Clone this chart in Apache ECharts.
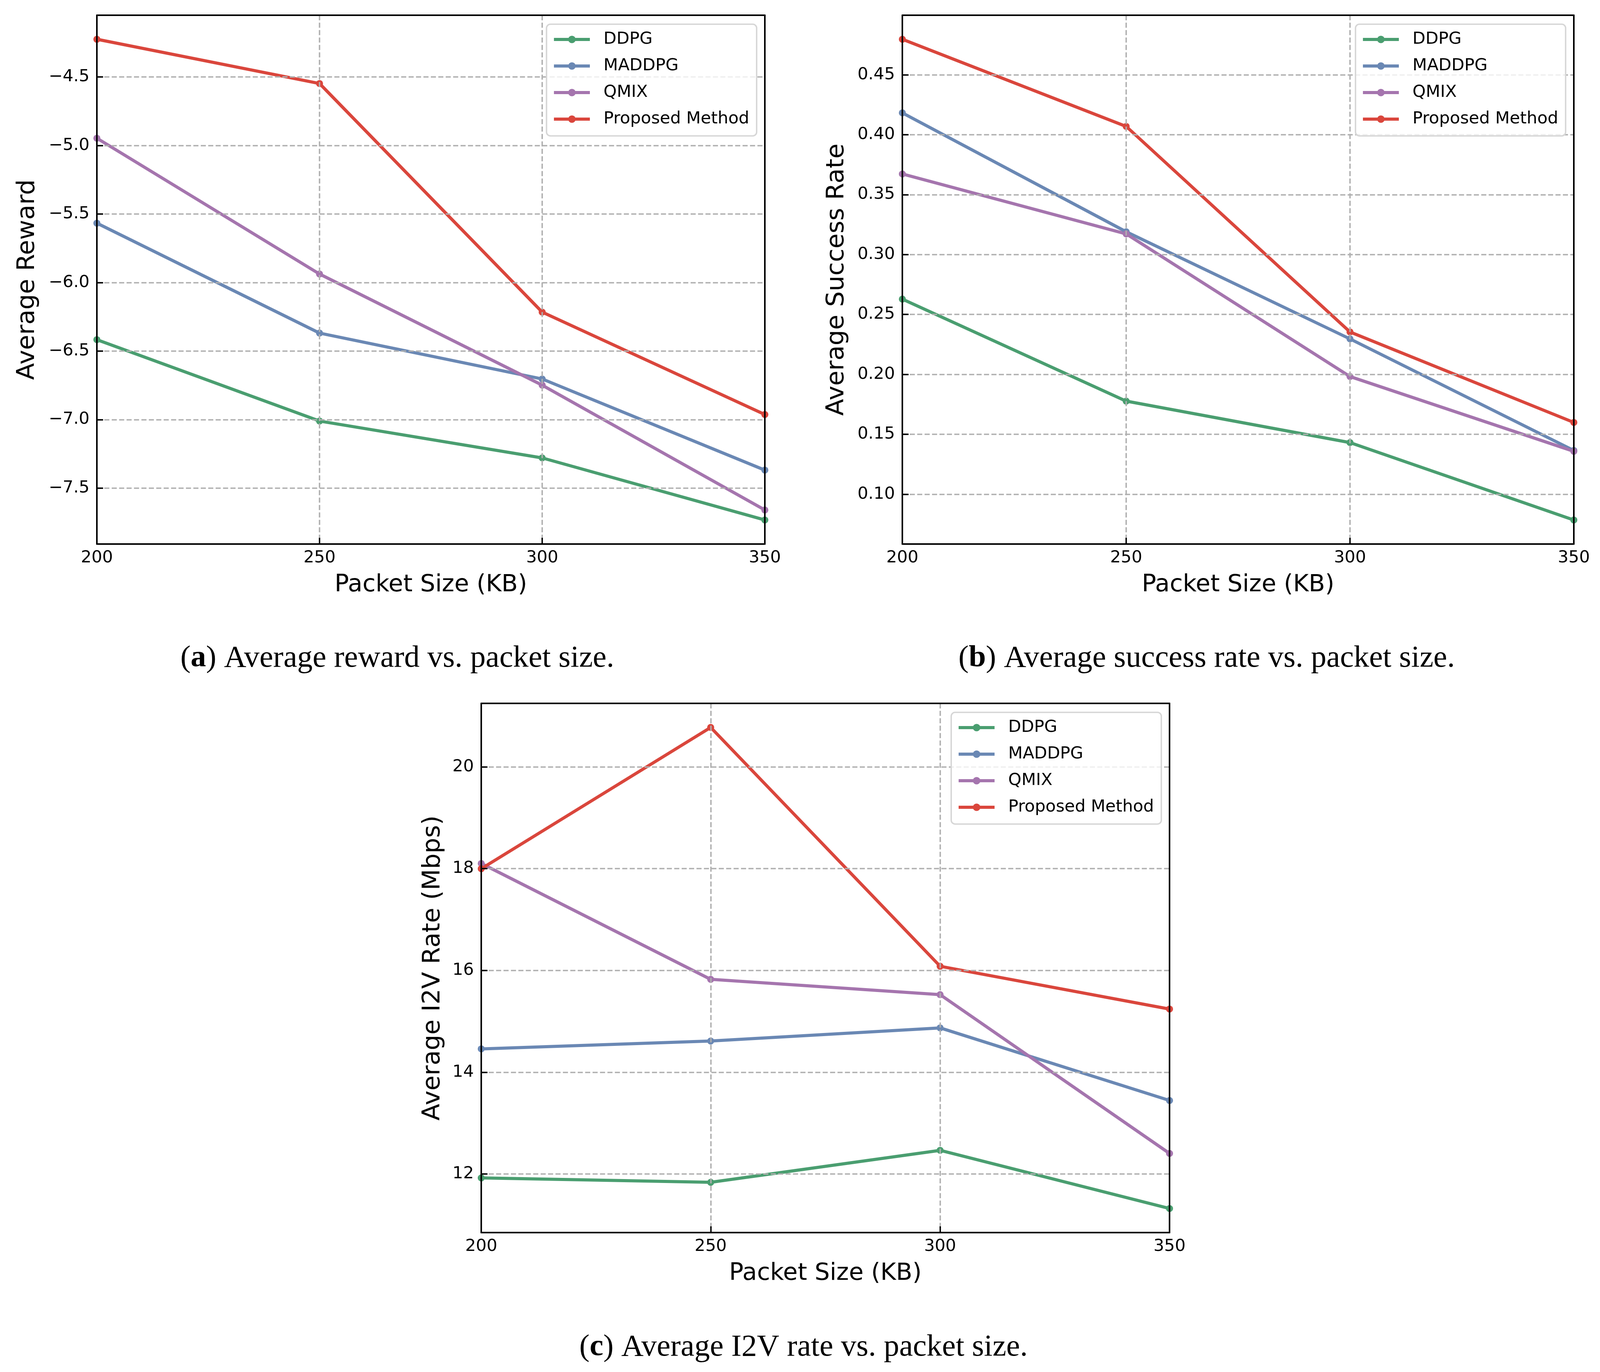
<!DOCTYPE html>
<html>
<head>
<meta charset="utf-8">
<script src="https://cdn.jsdelivr.net/npm/echarts@6/dist/echarts.min.js"></script>
<style>
html,body{margin:0;padding:0;background:#fff;overflow:hidden;}
#chart{width:4250px;height:3513px;}
</style>
</head>
<body>
<div id="chart"></div>
<script>
// ---------- data ----------
const packetSizes = [200, 250, 300, 350];
const xTicks = [200, 250, 300, 350];
const xInnerTicks = [250, 300];
const seriesNames = ['DDPG', 'MADDPG', 'QMIX', 'Proposed Method'];

const ddpgReward     = [-6.417, -7.011, -7.280, -7.733];
const maddpgReward   = [-5.567, -6.369, -6.704, -7.369];
const qmixReward     = [-4.947, -5.938, -6.749, -7.660];
const proposedReward = [-4.225, -4.548, -6.216, -6.963];

const ddpgSuccess     = [0.2628, 0.1777, 0.1431, 0.0785];
const maddpgSuccess   = [0.4182, 0.3190, 0.2296, 0.1365];
const qmixSuccess     = [0.3672, 0.3172, 0.1982, 0.1358];
const proposedSuccess = [0.4796, 0.4069, 0.2354, 0.1599];

const ddpgRate     = [11.924, 11.838, 12.466, 11.323];
const maddpgRate   = [14.459, 14.613, 14.871, 13.445];
const qmixRate     = [18.101, 15.825, 15.524, 12.405];
const proposedRate = [17.998, 20.773, 16.082, 15.241];

const rewardTicks  = [-7.5, -7.0, -6.5, -6.0, -5.5, -5.0, -4.5];
const successTicks = [0.10, 0.15, 0.20, 0.25, 0.30, 0.35, 0.40, 0.45];
const rateTicks    = [12, 14, 16, 18, 20];

const captions = [
  ['a', 'Average reward vs. packet size.'],
  ['b', 'Average success rate vs. packet size.'],
  ['c', 'Average I2V rate vs. packet size.']
];
const yTitles = ['Average Reward', 'Average Success Rate', 'Average I2V Rate (Mbps)'];
const xTitle = 'Packet Size (KB)';

// ---------- layout (designed for a 4250 px wide page, scaled to the real viewport) ----------
const DESIGN_W = 4250, DESIGN_H = 3513;
const pageW = Math.min(DESIGN_W, window.innerWidth || DESIGN_W);
const sx = pageW / DESIGN_W;
const el = document.getElementById('chart');
el.style.width = pageW + 'px';
el.style.height = DESIGN_H + 'px';

const colors = ['#4a9e70', '#6a88b4', '#a575ae', '#da463c'];
const SANS = 'DejaVu Sans';
const SERIF = 'Liberation Serif';
const TICK_FS = Math.round(45 * sx), TITLE_FS = Math.round(63 * sx),
      YTITLE_FS = 63, LEGEND_FS = Math.round(45 * sx), CAP_FS = Math.round(82 * sx);
const FRAME = {show: true, lineStyle: {color: '#000', width: 4}};

const gridsDesign = [
  {left: 257,  top: 39,   width: 1774, height: 1354},
  {left: 2397, top: 39,   width: 1784, height: 1354},
  {left: 1278, top: 1801, width: 1828, height: 1355}
];
const grids = gridsDesign.map(g => ({
  left: Math.round(g.left * sx), top: g.top,
  width: Math.round(g.width * sx), height: g.height
}));
const yNameGaps = [151, 141, 95].map(v => Math.round(v * sx));
const captionPos = [[1055, 1686], [3205, 1686], [2134, 3450]];

const panels = [
  {data: [ddpgReward, maddpgReward, qmixReward, proposedReward], ticks: rewardTicks,
   fmt: v => (v < 0 ? '\u2212' : '') + Math.abs(v).toFixed(1)},
  {data: [ddpgSuccess, maddpgSuccess, qmixSuccess, proposedSuccess], ticks: successTicks,
   fmt: v => v.toFixed(2)},
  {data: [ddpgRate, maddpgRate, qmixRate, proposedRate], ticks: rateTicks,
   fmt: v => String(Math.round(v))}
];

function autoRange(arrs) {
  const all = [].concat(...arrs);
  const mn = Math.min(...all), mx = Math.max(...all);
  const m = (mx - mn) * 0.05;
  return [mn - m, mx + m];
}

const gridLine = {show: true, lineStyle: {color: '#b0b0b0', width: 3.6, type: [13, 6]}};

const xAxes = [], yAxes = [];
grids.forEach((g, i) => {
  xAxes.push({
    type: 'value', gridIndex: i, min: 200, max: 350, position: 'bottom',
    name: xTitle, nameLocation: 'middle', nameGap: 75,
    nameTextStyle: {fontFamily: SANS, fontSize: TITLE_FS, color: '#000'},
    axisLine: FRAME,
    axisTick: {show: true, inside: true, length: 16, customValues: xInnerTicks,
               lineStyle: {color: '#000', width: 3.6}},
    axisLabel: {fontFamily: SANS, fontSize: TICK_FS, color: '#000', margin: 14,
                customValues: xTicks, formatter: v => String(v)},
    splitLine: gridLine, z: 3
  });
  xAxes.push({
    type: 'value', gridIndex: i, min: 200, max: 350, position: 'top',
    axisLine: FRAME, axisTick: {show: false}, axisLabel: {show: false},
    splitLine: {show: false}, z: 3
  });
  const p = panels[i];
  const r = autoRange(p.data);
  yAxes.push({
    type: 'value', gridIndex: i, min: r[0], max: r[1], position: 'left',
    name: yTitles[i], nameLocation: 'middle', nameGap: yNameGaps[i],
    nameTextStyle: {fontFamily: SANS, fontSize: YTITLE_FS, color: '#000'},
    axisLine: FRAME,
    axisTick: {show: true, inside: true, length: 16, customValues: p.ticks,
               lineStyle: {color: '#000', width: 3.6}},
    axisLabel: {fontFamily: SANS, fontSize: TICK_FS, color: '#000', margin: Math.round(20 * sx),
                customValues: p.ticks, formatter: p.fmt},
    splitLine: gridLine, z: 3
  });
  yAxes.push({
    type: 'value', gridIndex: i, min: r[0], max: r[1], position: 'right',
    axisLine: FRAME, axisTick: {show: false}, axisLabel: {show: false},
    splitLine: {show: false}, z: 3
  });
});

const option = {
  animation: false,
  backgroundColor: '#ffffff',
  grid: grids.map(g => Object.assign({show: false, containLabel: false}, g)),
  xAxis: xAxes,
  yAxis: yAxes,
  legend: grids.map((g, i) => ({
    orient: 'vertical',
    right: Math.round(pageW - (g.left + g.width - 22 * sx)),
    top: g.top + 23,
    data: seriesNames,
    selectedMode: false,
    itemWidth: Math.round(95 * sx), itemHeight: 24, itemGap: 22,
    lineStyle: {width: 8},
    padding: [16, Math.round(20 * sx), 20, Math.round(16 * sx)],
    backgroundColor: 'rgba(255,255,255,0.8)',
    borderColor: '#d6d6d6', borderWidth: 3.6, borderRadius: 10,
    textStyle: {fontFamily: SANS, fontSize: LEGEND_FS, color: '#000', lineHeight: 46,
                padding: [0, 0, 0, Math.round(31 * sx)]},
    z: 5
  })),
  series: [],
  graphic: captions.map((c, i) => ({
    type: 'text', x: Math.round(captionPos[i][0] * sx), y: captionPos[i][1], silent: true,
    style: {
      text: '({b|' + c[0] + '}) ' + c[1],
      rich: {b: {fontFamily: SERIF, fontSize: CAP_FS, fontWeight: 'bold', fill: '#000'}},
      fontFamily: SERIF, fontSize: CAP_FS, fill: '#000',
      align: 'center', verticalAlign: 'middle'
    }
  }))
};

panels.forEach((p, gi) => {
  p.data.forEach((vals, si) => {
    option.series.push({
      name: seriesNames[si], type: 'line',
      xAxisIndex: gi * 2, yAxisIndex: gi * 2,
      data: packetSizes.map((x, k) => [x, vals[k]]),
      symbol: 'circle', symbolSize: 18, showSymbol: true,
      lineStyle: {color: colors[si], width: 8},
      itemStyle: {color: colors[si]},
      emphasis: {disabled: true},
      clip: true, silent: true, z: 2
    });
  });
});

const chart = echarts.init(el, null, {renderer: 'canvas', width: pageW, height: DESIGN_H});
chart.setOption(option);
</script>
</body>
</html>
